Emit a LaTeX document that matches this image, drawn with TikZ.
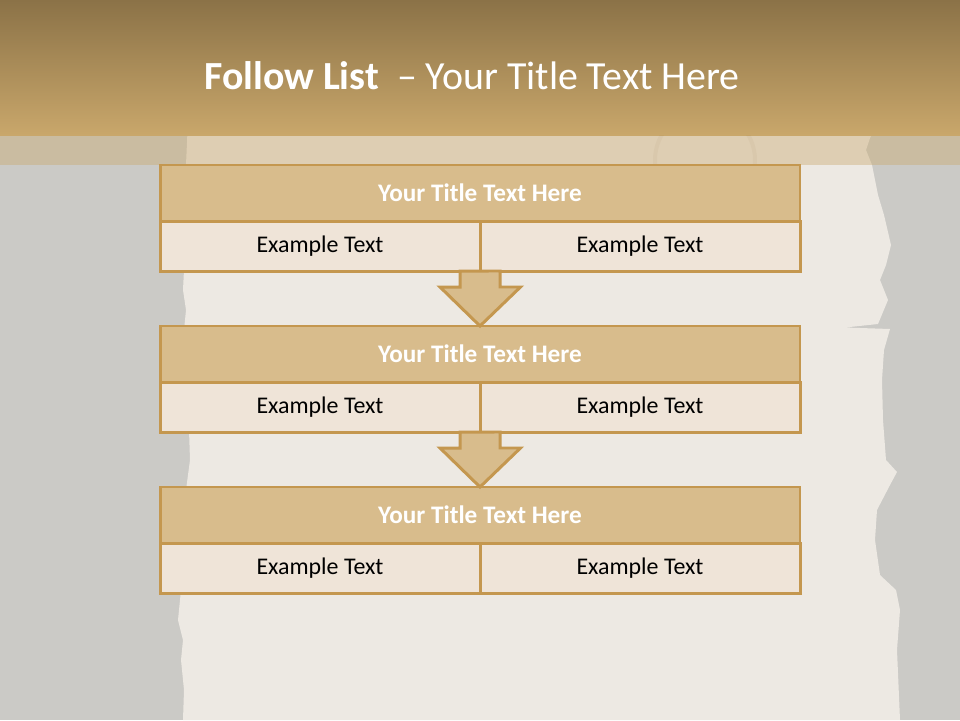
\documentclass[tikz,border=0pt]{standalone}
\usepackage{fontspec}
\setmainfont{Carlito}
\usetikzlibrary{positioning}
\definecolor{SlideGray}{HTML}{CBCAC6}
\definecolor{Paper}{HTML}{EDE9E3}
\definecolor{HeadDark}{HTML}{8B7247}
\definecolor{HeadLight}{HTML}{C9A76B}
\definecolor{Frame}{HTML}{C4974F}
\definecolor{TitleFill}{HTML}{D8BC8C}
\definecolor{CellFill}{HTML}{EFE4D8}
\tikzset{
  titlecell/.style={draw=Frame, fill=TitleFill, line width=2.25pt, outer sep=0pt,
    inner sep=0pt, minimum width=169.33mm, minimum height=14.82mm,
    font=\fontsize{19}{23}\selectfont\bfseries, text=white},
  excell/.style={draw=Frame, fill=CellFill, line width=2.25pt, outer sep=0pt,
    inner sep=0pt, minimum width=84.67mm, minimum height=13.23mm,
    font=\fontsize{18}{22}\selectfont, text=black},
  flowarrow/.style={draw=Frame, fill=TitleFill, line width=2.25pt, line join=miter},
}

\begin{document}
\begin{tikzpicture}[x=0.26458mm, y=-0.26458mm]
  \useasboundingbox (0,0) rectangle (960,720);
  % slide background
  \fill[SlideGray] (0,0) rectangle (960,720);
  % torn paper
  \fill[Paper]
    (188,120) -- (186,165) -- (183,200) -- (181,240) -- (184,270) -- (183,290)
    -- (186,310) -- (184,330) -- (188,360) -- (187,400) -- (189,430) -- (190,460)
    -- (186,490) -- (185,520) -- (184,560) -- (180,600) -- (178,620) -- (183,640)
    -- (181,660) -- (184,690) -- (183,720) -- (900,720) -- (897,650) -- (900,610)
    -- (896,590) -- (880,575) -- (875,540) -- (877,510) -- (890,485) -- (897,472)
    -- (886,460) -- (883,420) -- (882,380) -- (884,350) -- (890,329) -- (845,327.5)
    -- (878,324) -- (888,300) -- (880,280) -- (886,265) -- (891,245) -- (884,215)
    -- (878,195) -- (872,165) -- (866,150) -- (870,138) -- (880,120) -- cycle;
  % header
  \shade[top color=HeadDark, bottom color=HeadLight] (0,0) rectangle (960,135);
  \fill[HeadLight, opacity=0.4] (0,135) rectangle (960,165);
  \begin{scope}
    \clip (0,135) rectangle (960,165);
    \draw[HeadDark, opacity=0.06, line width=3pt] (705,160) circle (50);
  \end{scope}
  \node[font=\fontsize{30}{36}\selectfont, text=white] (heading) at (472,76)
    {\textbf{Follow List}\ \ -- Your Title Text Here};
  % list boxes
  \node[titlecell] (title1) at (480,193) {Your Title Text Here};
  \node[excell, below right=0pt and 0pt of title1.south west] (left1) {Example Text};
  \node[excell, right=0pt of left1] (right1) {Example Text};
  \node[titlecell] (title2) at (480,354) {Your Title Text Here};
  \node[excell, below right=0pt and 0pt of title2.south west] (left2) {Example Text};
  \node[excell, right=0pt of left2] (right2) {Example Text};
  \node[titlecell] (title3) at (480,515) {Your Title Text Here};
  \node[excell, below right=0pt and 0pt of title3.south west] (left3) {Example Text};
  \node[excell, right=0pt of left3] (right3) {Example Text};
  % arrows
  \draw[flowarrow] (left1.south east) ++(-20,0) -- ++(0,16) -- ++(-20,0)
    -- (title2.north) -- ++(40.5,-39) -- ++(-20.5,0) -- ++(0,-16) -- cycle;
  \draw[flowarrow] (left2.south east) ++(-20,0) -- ++(0,16) -- ++(-20,0)
    -- (title3.north) -- ++(40.5,-39) -- ++(-20.5,0) -- ++(0,-16) -- cycle;
\end{tikzpicture}
\end{document}
